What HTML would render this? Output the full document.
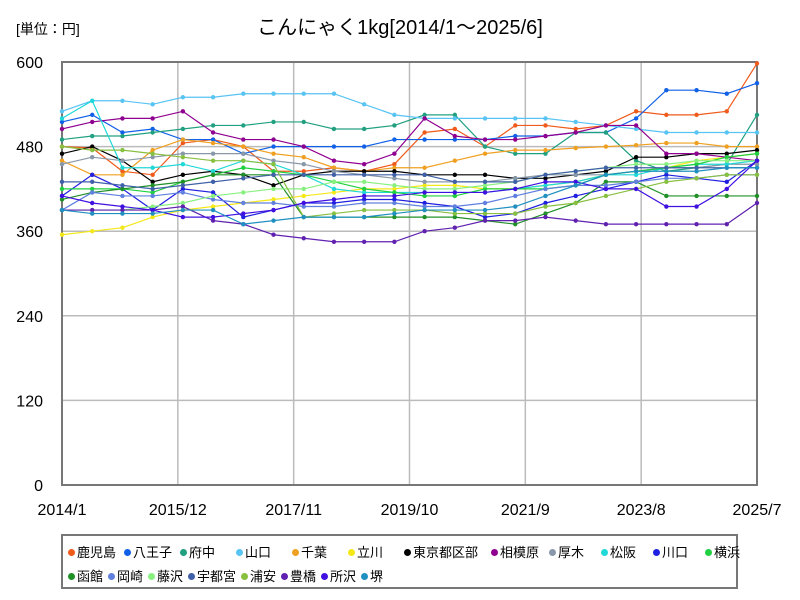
<!DOCTYPE html>
<html><head><meta charset="utf-8"><style>
body{margin:0;background:#fff;font-family:"Liberation Sans","Noto Sans CJK JP",sans-serif}
#wrap{position:relative;width:800px;height:600px;overflow:hidden}
.leg{position:absolute;left:61px;top:534px;width:677px;height:55px;border:2px solid #777;box-sizing:border-box}
.li{position:absolute;font-size:13px;white-space:nowrap}
.li i{display:inline-block;width:7px;height:7px;border-radius:50%;margin-right:2px;vertical-align:1px}
</style></head><body>
<div id="wrap">
<svg id="svg" width="800" height="600" style="position:absolute;left:0;top:0"></svg>
<div class="leg" id="leg"></div>
</div>
<script>
const names=["鹿児島","八王子","府中","山口","千葉","立川","東京都区部","相模原","厚木","松阪","川口","横浜","函館","岡崎","藤沢","宇都宮","浦安","豊橋","所沢","堺"];
const colors=["#f05a1a","#1060e8","#20a080","#58c4f4","#f0a020","#f4e818","#000000","#900090","#8898a8","#20d8d8","#2020e0","#20d040","#209028","#6080e0","#88f080","#4060a8","#88c040","#6020b0","#4010e0","#2090c0"];
const months=[0,6,12,18,24,30,36,42,48,54,60,66,72,78,84,90,96,102,108,114,120,126,132,138];
const xTicks=["2014/1","2015/12","2017/11","2019/10","2021/9","2023/8","2025/7"];
const yTicks=[0,120,240,360,480,600];
const s0=[480,478,445,440,485,490,480,445,445,450,445,455,500,505,480,510,510,505,510,530,525,525,530,598];
const s1=[515,525,500,505,490,490,470,480,480,480,480,490,490,490,490,495,495,500,500,520,560,560,555,570];
const s2=[490,495,495,500,505,510,510,515,515,505,505,510,525,525,480,470,470,500,500,460,445,450,455,525];
const s3=[530,545,545,540,550,550,555,555,555,555,540,525,520,520,520,520,520,515,510,505,500,500,500,500];
const s4=[460,440,440,475,490,485,480,470,465,450,445,450,450,460,470,475,475,478,480,482,485,485,480,480];
const s5=[355,360,365,380,390,395,400,405,410,415,420,420,425,425,420,420,425,430,440,445,450,460,465,470];
const s6=[470,480,460,430,440,445,440,425,440,445,445,445,440,440,440,435,435,440,445,465,465,470,470,475];
const s7=[505,515,520,520,530,500,490,490,480,460,455,470,520,495,490,490,495,500,510,510,470,470,465,460];
const s8=[455,465,460,465,470,470,470,460,455,445,440,435,430,430,430,435,440,440,440,445,450,450,455,455];
const s9=[520,545,450,450,455,445,460,455,440,420,415,415,415,415,415,420,425,430,440,440,450,455,455,460];
const s10=[410,440,420,390,420,415,380,390,400,400,405,405,400,395,380,385,400,410,420,430,440,435,430,460];
const s11=[420,420,420,415,430,440,450,445,440,430,420,415,410,410,420,420,420,425,440,445,450,455,465,470];
const s12=[405,415,420,425,430,440,440,440,380,380,380,380,380,380,375,370,385,400,430,430,410,410,410,410];
const s13=[390,415,410,410,415,405,400,400,395,395,400,400,395,395,400,410,420,425,425,430,435,435,440,440];
const s14=[390,390,390,395,400,410,415,420,420,430,430,425,420,420,425,430,440,445,450,455,455,460,460,460];
const s15=[430,430,425,420,425,430,435,440,440,440,440,440,440,430,430,430,440,445,450,450,450,450,450,450];
const s16=[480,475,475,470,465,460,460,455,380,385,390,390,390,385,385,385,395,400,410,420,430,435,440,440];
const s17=[390,390,390,390,395,375,370,355,350,345,345,345,360,365,375,375,380,375,370,370,370,370,370,400];
const s18=[410,400,395,390,380,380,385,390,400,405,410,410,415,415,415,420,430,430,420,420,395,395,420,460];
const s19=[390,385,385,385,390,390,370,375,380,380,380,385,390,390,390,395,410,425,440,445,445,445,450,450];
const series=[s0,s1,s2,s3,s4,s5,s6,s7,s8,s9,s10,s11,s12,s13,s14,s15,s16,s17,s18,s19];
const X0=62,X1=757,Y0=485,Y1=62;
const xs=m=>X0+(X1-X0)*m/138;
const ys=v=>Y0-(Y0-Y1)*v/600;
const NS="http://www.w3.org/2000/svg";
const svg=document.getElementById('svg');
function mk(t,a){const e=document.createElementNS(NS,t);for(const k in a)e.setAttribute(k,a[k]);svg.appendChild(e);return e;}
let t=mk('text',{x:400,y:34,'text-anchor':'middle','font-size':20,fill:'#000'});t.textContent='こんにゃく1kg[2014/1～2025/6]';

t=mk('text',{x:16,y:34,'font-size':14,fill:'#000'});t.textContent='[単位：円]';

yTicks.forEach(v=>{
 if(v>0){const g=mk('line',{x1:X0,x2:X1,y1:ys(v),y2:ys(v),stroke:'#bbb','stroke-width':1.5});
 }
 const l=mk('text',{x:43,y:ys(v)+6,'text-anchor':'end','font-size':16,fill:'#000'});l.textContent=v;
 
});
xTicks.forEach((s,i)=>{
 const x=xs(i*23);
 if(i>0&&i<6){const g=mk('line',{x1:x,x2:x,y1:Y1,y2:Y0,stroke:'#bbb','stroke-width':1.5});
 }
 const l=mk('text',{x:x,y:515,'text-anchor':'middle','font-size':16,fill:'#000'});l.textContent=s;
 
});
const fr=mk('rect',{x:X0,y:Y1,width:X1-X0,height:Y0-Y1,fill:'none',stroke:'#777','stroke-width':2});

series.forEach((s,k)=>{
 const pts=s.map((v,i)=>xs(months[i])+','+ys(v)).join(' ');
 const pl=mk('polyline',{points:pts,fill:'none',stroke:colors[k],'stroke-width':1.2});
 
 s.forEach((v,i)=>{const c=mk('circle',{cx:xs(months[i]),cy:ys(v),r:2.2,fill:colors[k]});
 });
});
const leg=document.getElementById('leg');
const w=[56,56,56,56,56,56,87,58,52,52,52,50];
let x=5;
names.forEach((n,i)=>{
 const d=document.createElement('div');d.className='li';
 if(i==12)x=5;
 d.style.left=x+'px';d.style.top=(i<12?6:30)+'px';
 x+= i<12?w[i]:(n.length*13+14);
 d.innerHTML='<i style="background:'+colors[i]+'"></i>'+n;
 
 
 leg.appendChild(d);
});
</script>
</body></html>
